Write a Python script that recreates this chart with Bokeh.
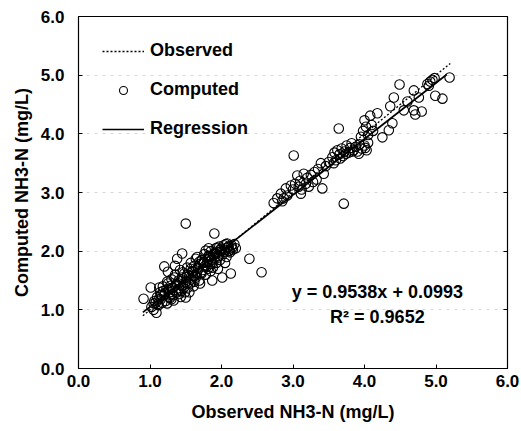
from bokeh.plotting import figure
from bokeh.models import Legend, LegendItem, Label, LinearAxis, FixedTicker, Range1d
from bokeh.embed import file_html
from bokeh.resources import INLINE

# Observed vs computed NH3-N (mg/L)
observed = [
    1.02, 1.05, 1.08, 1.10, 1.12, 1.14, 1.15, 1.17, 1.18, 1.20, 1.22, 1.23, 1.25, 1.26, 1.28, 1.30, 1.30, 1.32,
    1.33, 1.35, 1.36, 1.38, 1.40, 1.41, 1.42, 1.43, 1.45, 1.46, 1.48, 1.49, 1.50, 1.52, 1.53, 1.55, 1.56, 1.57,
    1.58, 1.60, 1.61, 1.62, 1.64, 1.65, 1.66, 1.68, 1.69, 1.70, 1.72, 1.73, 1.74, 1.76, 1.77, 1.78, 1.80, 1.81,
    1.82, 1.84, 1.85, 1.86, 1.88, 1.89, 1.90, 1.92, 1.93, 1.94, 1.96, 1.97, 1.98, 2.00, 2.02, 2.03, 2.05, 2.07,
    2.08, 2.10, 2.12, 2.14, 2.16, 2.18,
    1.20, 1.38, 1.45, 1.64, 1.78, 1.82, 2.01, 2.13, 1.87, 2.20, 2.08, 1.50, 1.33, 1.24, 1.05, 0.91, 1.01, 1.09,
    1.50, 1.90, 2.39, 2.56, 1.25, 1.35, 1.55, 1.70, 1.95, 2.05, 1.15, 1.28, 1.40, 1.60, 1.75, 1.92, 2.10, 1.12,
    1.44, 1.67, 1.83, 1.98, 1.18, 1.52, 1.72,
    1.06, 1.11, 1.16, 1.21, 1.27, 1.31, 1.37, 1.39, 1.44, 1.47, 1.51, 1.54, 1.59, 1.63, 1.67, 1.71, 1.75, 1.79,
    1.83, 1.87, 1.91, 1.95, 1.99, 2.04, 2.09, 2.15, 1.13, 1.24, 1.34, 1.46, 1.57, 1.69, 1.81, 1.94, 2.06, 1.29,
    1.41, 1.62, 1.85, 2.11,
    2.73, 2.78, 2.83, 2.87, 2.85, 2.90, 2.92, 2.97, 3.00, 3.03, 3.06, 3.08, 3.10, 3.12, 3.15, 3.18, 3.20, 3.22,
    3.25, 3.28, 3.30, 3.33, 3.35, 3.39, 3.41, 3.43, 3.01, 3.71, 3.11,
    3.55, 3.58, 3.60, 3.62, 3.65, 3.68, 3.70, 3.72, 3.75, 3.78, 3.80, 3.82, 3.85, 3.88, 3.90, 3.93, 3.96, 4.00,
    4.03, 4.05, 3.57, 3.66, 3.74, 3.83, 3.92, 4.01, 3.46, 3.50,
    3.64, 3.95, 3.98, 4.00, 4.02, 4.05, 4.08, 4.10, 4.12, 4.18, 4.25, 4.34, 4.39, 4.36, 4.41, 4.49, 4.69, 4.76,
    4.69, 4.80, 4.71, 4.88, 4.92, 4.95, 4.98, 4.90, 4.99, 5.09, 5.19, 4.55, 4.60,
]
computed = [
    1.05, 1.00, 1.12, 1.22, 1.08, 1.30, 1.18, 1.12, 1.40, 1.25, 1.15, 1.35, 1.45, 1.22, 1.30, 1.52, 1.18, 1.38,
    1.25, 1.60, 1.42, 1.30, 1.50, 1.35, 1.68, 1.22, 1.55, 1.42, 1.62, 1.30, 1.48, 1.72, 1.38, 1.58, 1.45, 1.80,
    1.52, 1.65, 1.40, 1.75, 1.55, 1.62, 1.90, 1.70, 1.50, 1.78, 1.62, 1.85, 1.68, 1.95, 1.75, 1.60, 1.82, 1.70,
    1.92, 1.78, 2.00, 1.85, 1.72, 1.95, 1.88, 2.05, 1.80, 1.98, 1.92, 2.08, 1.85, 2.00, 1.95, 2.10, 2.02, 1.90,
    2.05, 2.08, 1.98, 2.10, 2.03, 2.12,
    1.74, 1.87, 1.96, 1.87, 2.01, 2.05, 1.55, 1.62, 1.50, 2.05, 2.13, 1.21, 1.16, 1.11, 1.11, 1.19, 1.38, 0.95,
    2.47, 2.30, 1.87, 1.64, 1.65, 1.75, 1.30, 1.45, 1.70, 1.80, 1.25, 1.20, 1.45, 1.58, 1.80, 1.95, 2.00, 1.18,
    1.32, 1.72, 1.90, 2.02, 1.32, 1.60, 1.85,
    1.15, 1.10, 1.25, 1.28, 1.36, 1.27, 1.44, 1.33, 1.52, 1.37, 1.56, 1.47, 1.66, 1.58, 1.72, 1.63, 1.82, 1.73,
    1.88, 1.79, 1.97, 1.89, 2.04, 1.99, 2.07, 2.06, 1.38, 1.48, 1.55, 1.64, 1.70, 1.82, 1.90, 2.06, 2.12, 1.41,
    1.27, 1.48, 1.66, 2.01,
    2.82, 2.90, 2.98, 2.90, 2.85, 3.07, 2.95, 3.12, 3.05, 3.15, 3.29, 3.10, 3.20, 3.05, 3.32, 3.15, 3.25, 3.10,
    3.30, 3.18, 3.35, 3.22, 3.40, 3.50, 3.07, 3.32, 3.63, 2.81, 2.98,
    3.60, 3.68, 3.55, 3.72, 3.65, 3.75, 3.62, 3.70, 3.80, 3.68, 3.76, 3.84, 3.72, 3.78, 3.70, 3.82, 3.75, 3.80,
    3.72, 3.85, 3.50, 3.58, 3.66, 3.70, 3.66, 3.76, 3.45, 3.52,
    4.09, 3.95, 4.05, 4.23, 4.12, 3.98, 4.31, 4.15, 4.05, 4.35, 3.94, 4.06, 4.18, 4.47, 4.62, 4.84, 4.74, 4.62,
    4.40, 4.38, 4.33, 4.85, 4.89, 4.92, 4.95, 4.82, 4.65, 4.60, 4.96, 4.40, 4.55,
]

# 1:1 line and regression line (y = 0.9538x + 0.0993)
slope, intercept = 0.9538, 0.0993
line_x = [0.9, 5.2]
reg_x = [0.9, 5.15]
reg_y = [slope * v + intercept for v in reg_x]

ticks = [0, 1, 2, 3, 4, 5, 6]
tick_labels = {t: f"{t:.1f}" for t in ticks}

FONT = "Liberation Sans"

p = figure(width=521, height=431, output_backend="svg", toolbar_location=None,
           x_range=Range1d(0, 6), y_range=Range1d(0, 6),
           min_border_left=78, min_border_right=14, min_border_top=16, min_border_bottom=63)
p.background_fill_color = "white"
p.border_fill_color = "white"
p.outline_line_color = "black"
p.outline_line_width = 1.2

r_obs = p.line(line_x, line_x, line_color="black", line_width=1.3, line_dash="2 2")
r_reg = p.line(reg_x, reg_y, line_color="black", line_width=1.7)
r_pts = p.scatter(observed, computed, marker="circle", size=9.5, fill_color=None,
                  line_color="black", line_width=1.1)

for ax in (p.xaxis[0], p.yaxis[0]):
    ax.ticker = FixedTicker(ticks=ticks)
    ax.major_label_overrides = tick_labels
    ax.major_label_text_font = FONT
    ax.major_label_text_font_style = "bold"
    ax.major_label_text_font_size = "17px"
    ax.major_label_text_color = "black"
    ax.axis_label_text_font = FONT
    ax.axis_label_text_font_style = "bold"
    ax.axis_label_text_font_size = "18px"
    ax.axis_label_text_color = "black"
    ax.axis_line_color = "black"
    ax.major_tick_line_color = "black"
    ax.major_tick_in = 4
    ax.major_tick_out = 0
    ax.minor_tick_line_color = None

p.xaxis.axis_label = "Observed NH3-N (mg/L)"
p.yaxis.axis_label = "Computed NH3-N (mg/L)"
p.xaxis.major_label_standoff = 6
p.xaxis.axis_label_standoff = 12
p.yaxis.major_label_standoff = 14
p.yaxis.axis_label_standoff = 6

right = LinearAxis(ticker=FixedTicker(ticks=ticks), major_label_text_font_size="0px",
                   major_tick_in=4, major_tick_out=0, minor_tick_line_color=None,
                   axis_line_color="black", major_label_text_color=None)
p.add_layout(right, "right")

p.xgrid.grid_line_color = None
p.ygrid.ticker = FixedTicker(ticks=[1, 2, 3, 4, 5])
p.ygrid.grid_line_color = "#d6d6d6"
p.ygrid.grid_line_dash = "3 5"
p.ygrid.grid_line_width = 1

legend = Legend(items=[
    LegendItem(label="Observed", renderers=[r_obs]),
    LegendItem(label="Computed", renderers=[r_pts]),
    LegendItem(label="Regression", renderers=[r_reg]),
], location=(24, 229), padding=0, margin=0, spacing=18,
    glyph_width=42, glyph_height=20, label_height=20, label_standoff=6,
    label_text_font=FONT, label_text_font_style="bold", label_text_font_size="18px",
    label_text_color="black",
    border_line_color=None, background_fill_alpha=0)
p.add_layout(legend, "center")

eq = Label(x=4.18, y=1.30, text="y = 0.9538x + 0.0993", text_align="center", text_baseline="middle",
           text_font=FONT, text_font_style="bold", text_font_size="18px", text_color="black")
r2 = Label(x=4.18, y=0.87, text="R² = 0.9652", text_align="center", text_baseline="middle",
           text_font=FONT, text_font_style="bold", text_font_size="18px", text_color="black")
p.add_layout(eq)
p.add_layout(r2)

open("out.html", "w").write(file_html(p, INLINE))
